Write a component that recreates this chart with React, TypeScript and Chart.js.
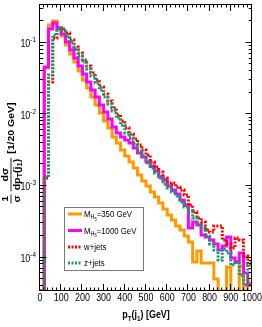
import React, { useEffect, useRef } from 'react';
import { Chart, registerables } from 'chart.js';

Chart.register(...registerables);

// ---- data (bin low edges in GeV, 20 GeV bins from 0 to 1000) ----
const BIN_WIDTH = 20;
const BIN_EDGES: number[] = Array.from({ length: 51 }, (_, i) => i * BIN_WIDTH);

const MH5_350: number[] = [
  0, 0.0429, 0.171, 0.1945, 0.155, 0.12, 0.0899, 0.0673, 0.052, 0.039,
  0.0292, 0.0226, 0.0169, 0.0131, 0.0101, 0.00781, 0.00623, 0.00467, 0.00385, 0.00307,
  0.00253, 0.00209, 0.00172, 0.00137, 0.00113, 0.000965, 0.000796, 0.000678, 0.000559, 0.000461,
  0.00038, 0.000324, 0.000267, 0.000235, 0.000193, 0.000159, 0.0000838, 0.000119, 0.0000811, 0.0000811,
  0.0000811, 0.0000485, 0, 0, 0.0000714, 0, 0, 0.0000737, 0, 0.0000426,
];
const MH5_1000: number[] = [
  0, 0.0443, 0.15, 0.182, 0.155, 0.128, 0.099, 0.0766, 0.0592, 0.0458,
  0.0354, 0.0274, 0.0212, 0.0169, 0.0131, 0.0104, 0.00832, 0.00644, 0.00531, 0.00467,
  0.00424, 0.00385, 0.00328, 0.00279, 0.00245, 0.00209, 0.00184, 0.00156, 0.0013, 0.00117,
  0.000965, 0.000849, 0.000746, 0.000615, 0.000524, 0.00025, 0.000303, 0.000275, 0.0002, 0.000187,
  0.00017, 0.00015, 0.000123, 0.00014, 0.000187, 0.0000953, 0.0000838, 0.000112, 0.0000588, 0.00004,
];
const W_JETS: number[] = [
  0, 0.00125, 0.0274, 0.1126, 0.155, 0.15, 0.132, 0.106, 0.0843, 0.0696,
  0.0555, 0.0458, 0.0365, 0.0292, 0.0233, 0.0186, 0.0149, 0.0119, 0.00947, 0.00781,
  0.00623, 0.00514, 0.00438, 0.00361, 0.00307, 0.00262, 0.00209, 0.00178, 0.00151, 0.00125,
  0.00103, 0.00106, 0.000935, 0.000849, 0.000723, 0.000524, 0.000418, 0.000345, 0.000303, 0.000235,
  0.00022, 0.000267, 0.000267, 0.00017, 0.00015, 0.000131, 0.000181, 0.00017, 0.000102, 0.0000811,
];
const Z_JETS: number[] = [
  0, 0.00129, 0.0343, 0.124, 0.155, 0.141, 0.12, 0.099, 0.0791, 0.0631,
  0.052, 0.0416, 0.0332, 0.0265, 0.0212, 0.0169, 0.0135, 0.0108, 0.0086, 0.00686,
  0.00531, 0.00452, 0.00373, 0.00298, 0.00253, 0.00202, 0.00172, 0.00147, 0.00125, 0.00103,
  0.000905, 0.000796, 0.0007, 0.000577, 0.000491, 0.000418, 0.000345, 0.000284, 0.00025, 0.000193,
  0.00015, 0.000123, 0.0000894, 0.000127, 0.000112, 0.0000761, 0.0000838, 0.0000551, 0.00004, 0.0000761,
];

const X_TICK_VALUES: number[] = [0, 100, 200, 300, 400, 500, 600, 700, 800, 900, 1000];
const X_TICK_LABELS: string[] = ['0', '100', '200', '300', '400', '500', '600', '700', '800', '900', '1000'];
const X_MINOR_STEP = 20;
const Y_DECADE_EXPONENTS: number[] = [-1, -2, -3, -4];
const Y_MIN = 3.3e-5;
const Y_MAX = 0.336;

const COLORS = {
  mh350: '#ff9900',
  mh1000: '#ff00ff',
  wjets: '#ff0000',
  zjets: '#139a68',
};

const FONT = "'Liberation Sans', Arial, Helvetica, sans-serif";
const SX = 0.85;

type Run = { t: string; size: number; dy?: number; bold?: boolean };

function setFont(ctx: CanvasRenderingContext2D, r: Run) {
  ctx.font = `${r.bold ? 'bold ' : ''}${r.size}px ${FONT}`;
}
function runsWidth(ctx: CanvasRenderingContext2D, runs: Run[]) {
  let w = 0;
  for (const r of runs) {
    setFont(ctx, r);
    w += ctx.measureText(r.t).width;
  }
  return w;
}
function drawRuns(ctx: CanvasRenderingContext2D, runs: Run[], x: number, y: number) {
  let cx = x;
  for (const r of runs) {
    setFont(ctx, r);
    ctx.fillText(r.t, cx, y + (r.dy || 0));
    cx += ctx.measureText(r.t).width;
  }
  return cx - x;
}
// horizontally compressed text
function drawRunsH(ctx: CanvasRenderingContext2D, runs: Run[], x: number, y: number, align: 'left' | 'center' | 'right') {
  const w = runsWidth(ctx, runs) * SX;
  const x0 = align === 'center' ? x - w / 2 : align === 'right' ? x - w : x;
  ctx.save();
  ctx.translate(x0, y);
  ctx.scale(SX, 1);
  drawRuns(ctx, runs, 0, 0);
  ctx.restore();
}

const LEGEND_FONT = 9.2;
const legendItems: { runs: Run[]; color: string; dash: number[] }[] = [
  { runs: [{ t: 'M', size: LEGEND_FONT }, { t: 'H', size: 6.4, dy: 2 }, { t: '5', size: 4.8, dy: 3.6 }, { t: '=350 GeV', size: LEGEND_FONT }], color: COLORS.mh350, dash: [] },
  { runs: [{ t: 'M', size: LEGEND_FONT }, { t: 'H', size: 6.4, dy: 2 }, { t: '5', size: 4.8, dy: 3.6 }, { t: '=1000 GeV', size: LEGEND_FONT }], color: COLORS.mh1000, dash: [] },
  { runs: [{ t: 'w+jets', size: LEGEND_FONT }], color: COLORS.wjets, dash: [2, 1.5] },
  { runs: [{ t: 'z+jets', size: LEGEND_FONT }], color: COLORS.zjets, dash: [2, 1.5] },
];

const framePlugin = {
  id: 'rootFrame',
  afterDraw(chart: any) {
    const ctx: CanvasRenderingContext2D = chart.ctx;
    const xs = chart.scales.x;
    const ys = chart.scales.y;
    const { left, right, top, bottom } = chart.chartArea;
    ctx.save();
    ctx.strokeStyle = '#000';
    ctx.fillStyle = '#000';
    ctx.lineWidth = 1;
    // frame
    ctx.strokeRect(left - 0.5, top + 0.5, right - left, bottom - top - 1);
    // x ticks
    ctx.beginPath();
    for (let v = 0; v <= 1000; v += X_MINOR_STEP) {
      const px = Math.round(xs.getPixelForValue(v)) - 0.5;
      const len = v % 100 === 0 ? 7 : 3.5;
      ctx.moveTo(px, bottom);
      ctx.lineTo(px, bottom - len);
      ctx.moveTo(px, top);
      ctx.lineTo(px, top + len);
    }
    // y ticks
    for (let e = -5; e <= 0; e++) {
      for (let m = 1; m <= 9; m++) {
        const v = m * Math.pow(10, e);
        if (v < Y_MIN || v > Y_MAX) continue;
        const py = Math.round(ys.getPixelForValue(v)) + 0.5;
        const len = m === 1 ? 6.5 : 3.3;
        ctx.moveTo(left, py);
        ctx.lineTo(left + len, py);
        ctx.moveTo(right, py);
        ctx.lineTo(right - len, py);
      }
    }
    ctx.stroke();

    // x tick labels
    ctx.textBaseline = 'alphabetic';
    X_TICK_VALUES.forEach((v, i) => {
      const px = xs.getPixelForValue(v);
      drawRunsH(ctx, [{ t: X_TICK_LABELS[i], size: 10.5 }], px, 301, 'center');
    });
    // y tick labels
    Y_DECADE_EXPONENTS.forEach((e) => {
      const py = ys.getPixelForValue(Math.pow(10, e));
      const sup: Run[] = [{ t: '-' + String(-e), size: 7.5 }];
      const supW = runsWidth(ctx, sup) * SX;
      drawRunsH(ctx, sup, 36, py + 0.5, 'right');
      drawRunsH(ctx, [{ t: '10', size: 10.5 }], 36 - supW, py + 5.5, 'right');
    });

    // x title
    const xTitle: Run[] = [
      { t: 'p', size: 10.5, bold: true },
      { t: 'T', size: 7.5, bold: true, dy: 2.5 },
      { t: '(j', size: 10.5, bold: true },
      { t: '1', size: 7.5, bold: true, dy: 2.5 },
      { t: ') [GeV]', size: 10.5, bold: true },
    ];
    drawRunsH(ctx, xTitle, (left + right) / 2, 318, 'center');

    // y title (rotated)
    const f = 10.5;
    const s = 7.5;
    const num1: Run[] = [{ t: '1', size: f, bold: true }];
    const den1: Run[] = [{ t: 'σ', size: f, bold: true }];
    const num2: Run[] = [{ t: 'dσ', size: f, bold: true }];
    const den2: Run[] = [
      { t: 'dp', size: f, bold: true },
      { t: 'T', size: s, bold: true, dy: 2.5 },
      { t: '(j', size: f, bold: true },
      { t: '1', size: s, bold: true, dy: 2.5 },
      { t: ')', size: f, bold: true },
    ];
    const main: Run[] = [{ t: '[1/20 GeV]', size: f, bold: true }];
    const w1 = Math.max(runsWidth(ctx, num1), runsWidth(ctx, den1)) + 2;
    const w2 = Math.max(runsWidth(ctx, num2), runsWidth(ctx, den2)) + 2;
    const wm = runsWidth(ctx, main);
    const gap1 = 3;
    const gap2 = 4;
    const total = w1 + gap1 + w2 + gap2 + wm;
    const yc = 153;
    ctx.save();
    ctx.translate(11, yc + total / 2);
    ctx.scale(SX, 1);
    ctx.rotate(-Math.PI / 2);
    const nb = -3; // numerator baseline
    const db = 10.5; // denominator baseline
    drawRuns(ctx, num1, (w1 - runsWidth(ctx, num1)) / 2, nb);
    drawRuns(ctx, den1, (w1 - runsWidth(ctx, den1)) / 2, db);
    ctx.fillRect(0, -0.5, w1, 1);
    const u2 = w1 + gap1;
    drawRuns(ctx, num2, u2 + (w2 - runsWidth(ctx, num2)) / 2, nb);
    drawRuns(ctx, den2, u2 + (w2 - runsWidth(ctx, den2)) / 2, db);
    ctx.fillRect(u2, -0.5, w2, 1);
    drawRuns(ctx, main, u2 + w2 + gap2, 4);
    ctx.restore();

    // legend
    const bx = 64.5, by = 207.5, bw = 79, bh = 63;
    ctx.fillStyle = '#fff';
    ctx.fillRect(bx, by, bw, bh);
    ctx.strokeStyle = '#7a7a7a';
    ctx.lineWidth = 1;
    ctx.strokeRect(bx, by, bw, bh);
    const rowY = [214, 230.5, 247, 263];
    legendItems.forEach((it, i) => {
      const y = rowY[i];
      ctx.save();
      ctx.strokeStyle = it.color;
      ctx.lineWidth = 3;
      ctx.setLineDash(it.dash);
      ctx.beginPath();
      ctx.moveTo(68, y);
      ctx.lineTo(82, y);
      ctx.stroke();
      ctx.restore();
      ctx.fillStyle = '#000';
      drawRunsH(ctx, it.runs, 84, y + 3.2, 'left');
    });
    ctx.restore();
  },
};

// empty bins are drawn on the lower edge of the frame, as ROOT does
function toPoints(values: number[]) {
  return BIN_EDGES.map((x, i) => {
    const v = values[Math.min(i, values.length - 1)];
    return { x, y: v > 0 ? v : Y_MIN };
  });
}

export default function App() {
  const ref = useRef<HTMLCanvasElement | null>(null);
  useEffect(() => {
    if (!ref.current) return;
    const common = {
      stepped: 'before' as const,
      pointRadius: 0,
      borderWidth: 3,
      fill: false,
      borderJoinStyle: 'miter' as const,
      borderCapStyle: 'butt' as const,
    };
    const chart = new Chart(ref.current, {
      type: 'line',
      data: {
        datasets: [
          { ...common, label: 'M_H5=350 GeV', data: toPoints(MH5_350), borderColor: COLORS.mh350, order: 4 },
          { ...common, label: 'M_H5=1000 GeV', data: toPoints(MH5_1000), borderColor: COLORS.mh1000, order: 3 },
          { ...common, label: 'w+jets', data: toPoints(W_JETS), borderColor: COLORS.wjets, borderDash: [2, 1.5], order: 2 },
          { ...common, label: 'z+jets', data: toPoints(Z_JETS), borderColor: COLORS.zjets, borderDash: [2, 1.5], order: 1 },
        ],
      },
      options: {
        responsive: false,
        animation: false,
        devicePixelRatio: 1,
        layout: { padding: { left: 40, right: 10, top: 4, bottom: 36 } },
        plugins: { legend: { display: false }, tooltip: { enabled: false } },
        scales: {
          x: { type: 'linear', min: 0, max: 1000, display: false },
          y: { type: 'logarithmic', min: Y_MIN, max: Y_MAX, display: false },
        },
      },
      plugins: [framePlugin],
    });
    return () => chart.destroy();
  }, []);
  return (
    <div style={{ position: 'fixed', left: 0, top: 0, width: 262, height: 327, background: '#fff' }}>
      <canvas ref={ref} width={262} height={327} style={{ display: 'block' }} />
    </div>
  );
}
